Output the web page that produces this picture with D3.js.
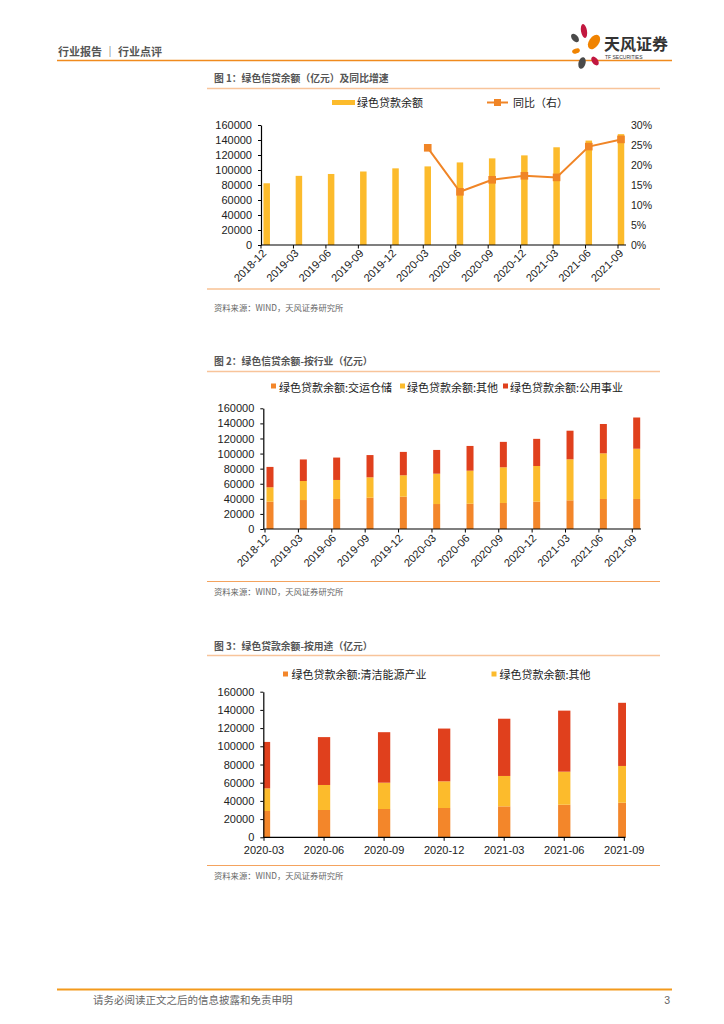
<!DOCTYPE html>
<html><head><meta charset="utf-8">
<script src="https://cdn.jsdelivr.net/npm/d3@7"></script>
<style>body{margin:0;background:#fff}svg{display:block}</style>
</head><body><svg id="c" width="724" height="1024"></svg>
<script>
// ---------- DATA ----------
const dates1 = ["2018-12","2019-03","2019-06","2019-09","2019-12","2020-03","2020-06","2020-09","2020-12","2021-03","2021-06","2021-09"];
const greenLoan = [82300, 92200, 94700, 98000, 102200, 104800, 110100, 115500, 119500, 130300, 139200, 147800];
const yoy = [null, null, null, null, null, 24.3, 13.3, 16.3, 17.3, 16.9, 24.6, 26.4];
const transport = [36200, 38400, 39800, 41500, 42800, 33100, 33500, 34500, 36200, 38000, 39800, 39800];
const otherInd  = [19100, 25200, 25200, 27000, 28400, 40200, 43800, 47300, 47300, 54400, 60500, 66600];
const utilities = [27000, 28600, 29700, 29500, 31000, 31500, 32800, 33700, 36000, 37900, 38900, 41400];
const dates3 = ["2020-03","2020-06","2020-09","2020-12","2021-03","2021-06","2021-09"];
const cleanEnergy = [28900, 30000, 31100, 32200, 34000, 35800, 38000];
const otherUse    = [24900, 27500, 28900, 29300, 33400, 36300, 40400];
const infraUpgrade= [51000, 52600, 55500, 58000, 62900, 67100, 69400];
const yTicks = [0, 20000, 40000, 60000, 80000, 100000, 120000, 140000, 160000];
const pctTicks = [0, 5, 10, 15, 20, 25, 30];
const names1 = ["绿色贷款余额", "同比（右）"];
const names2 = ["绿色贷款余额:交运仓储", "绿色贷款余额:其他", "绿色贷款余额:公用事业"];
const names3 = ["绿色贷款余额:清洁能源产业", "绿色贷款余额:其他"];

// ---------- STYLE ----------
const YEL = "#FCBB2C", ORG = "#F3862A", RED = "#E0401D", LINE = "#F08526";
const NUM = "'Liberation Sans', Arial, 'Noto Sans CJK SC', sans-serif";
const CJK = "'Noto Sans CJK SC', 'Liberation Sans', sans-serif";
const svg = d3.select("#c");

// ---------- HEADER ----------
svg.append("text").attr("x", 58).attr("y", 55.5).attr("font-family", CJK).attr("font-size", 11)
  .attr("font-weight", "bold").attr("fill", "#555").text("行业报告 ｜ 行业点评");
svg.append("line").attr("x1", 57).attr("x2", 672).attr("y1", 60.5).attr("y2", 60.5)
  .attr("stroke", "#F08A1D").attr("stroke-width", 1.6);
// logo
const logo = svg.append("g");
const petals = [
  {cx: 584, cy: 31, rx: 3, ry: 7, r: -10, c: "#C2173F"},
  {cx: 594, cy: 42, rx: 5, ry: 8, r: 35, c: "#F08300"},
  {cx: 575, cy: 38, rx: 3, ry: 5, r: -40, c: "#4A4A4A"},
  {cx: 576, cy: 51, rx: 4, ry: 2.5, r: -20, c: "#F08300"},
  {cx: 582, cy: 63, rx: 3.5, ry: 6, r: 15, c: "#4A4A4A"},
  {cx: 595, cy: 61, rx: 3, ry: 5, r: -35, c: "#C2173F"}
];
petals.forEach(p => logo.append("ellipse").attr("cx", p.cx).attr("cy", p.cy).attr("rx", p.rx).attr("ry", p.ry)
  .attr("transform", `rotate(${p.r},${p.cx},${p.cy})`).attr("fill", p.c));
logo.append("text").attr("x", 604).attr("y", 50).attr("font-family", CJK).attr("font-size", 16)
  .attr("font-weight", "bold").attr("fill", "#333").text("天风证券");
logo.append("text").attr("x", 605).attr("y", 58.5).attr("font-family", NUM).attr("font-size", 5)
  .attr("fill", "#333").text("TF SECURITIES");

// ---------- helpers ----------
function titleBlock(y, text, lineY) {
  svg.append("text").attr("x", 214).attr("y", y).attr("font-family", CJK).attr("font-size", 9.8)
    .attr("font-weight", "bold").attr("fill", "#555").text(text);
  svg.append("line").attr("x1", 207).attr("x2", 660).attr("y1", lineY).attr("y2", lineY)
    .attr("stroke", "#F8C49A").attr("stroke-width", 1.5);
}
function sourceBlock(lineY, textY) {
  svg.append("line").attr("x1", 207).attr("x2", 660).attr("y1", lineY).attr("y2", lineY)
    .attr("stroke", "#F4A35E").attr("stroke-width", 1);
  svg.append("text").attr("x", 214).attr("y", textY).attr("font-family", CJK).attr("font-size", 8.3)
    .attr("fill", "#666").text("资料来源：WIND，天风证券研究所");
}
function leftAxis(y, x0) {
  const g = svg.append("g").attr("transform", `translate(${x0},0)`)
    .call(d3.axisLeft(y).tickValues(yTicks).tickSize(3).tickSizeOuter(0).tickFormat(d3.format("d")).tickPadding(6));
  g.select(".domain").attr("stroke", "#000").attr("stroke-width", 1.2);
  g.selectAll(".tick line").attr("stroke", "#000");
  g.selectAll("text").attr("font-family", NUM).attr("font-size", 11).attr("fill", "#222");
  return g;
}
function bottomAxisLine(x1, x2, yv, tickXs) {
  svg.append("line").attr("x1", x1).attr("x2", x2).attr("y1", yv).attr("y2", yv).attr("stroke", "#000").attr("stroke-width", 1.2);
  tickXs.forEach(t => svg.append("line").attr("x1", t).attr("x2", t).attr("y1", yv).attr("y2", yv + 3.5).attr("stroke", "#000"));
}
function rotLabels(labels, xs, yv, dx, dy) {
  labels.forEach((l, i) => svg.append("text").attr("text-anchor", "end")
    .attr("transform", `translate(${xs(l) + dx},${yv + dy}) rotate(-45)`)
    .attr("font-family", NUM).attr("font-size", 11).attr("fill", "#222").text(l));
}

// ---------- CHART 1 ----------
titleBlock(81.5, "图 1：绿色信贷余额（亿元）及同比增速", 88.5);
{
  const top = 125, bot = 245;
  const y = d3.scaleLinear().domain([0, 160000]).range([bot, top]);
  const yR = d3.scaleLinear().domain([0, 30]).range([bot, top]);
  const xc = d3.scalePoint().domain(dates1).range([266.7, 621]);
  const xt = d3.scalePoint().domain(dates1).range([261, 618]);
  const bw = 6.5;
  svg.append("g").selectAll("rect").data(dates1).join("rect")
    .attr("x", d => xc(d) - bw / 2).attr("width", bw)
    .attr("y", (d, i) => y(greenLoan[i])).attr("height", (d, i) => bot - y(greenLoan[i])).attr("fill", YEL);
  leftAxis(y, 261);
  bottomAxisLine(261, 626, bot, dates1.map(d => xt(d)));
  // right labels
  const gR = svg.append("g").attr("transform", `translate(627,0)`)
    .call(d3.axisRight(yR).tickValues(pctTicks).tickSize(0).tickPadding(4).tickFormat(d => d + "%"));
  gR.select(".domain").remove();
  gR.selectAll("text").attr("font-family", NUM).attr("font-size", 10.5).attr("fill", "#222");
  // line
  const pts = dates1.map((d, i) => ({d, v: yoy[i]})).filter(p => p.v != null);
  svg.append("path").datum(pts).attr("fill", "none").attr("stroke", LINE).attr("stroke-width", 2)
    .attr("d", d3.line().x(p => xc(p.d)).y(p => yR(p.v)));
  svg.append("g").selectAll("rect").data(pts).join("rect")
    .attr("x", p => xc(p.d) - 3.8).attr("y", p => yR(p.v) - 3.8).attr("width", 7.6).attr("height", 7.6).attr("fill", LINE);
  rotLabels(dates1, xt, bot, 6, 9);
  // legend
  svg.append("rect").attr("x", 332).attr("y", 100).attr("width", 23).attr("height", 5).attr("fill", YEL);
  svg.append("text").attr("x", 357).attr("y", 107).attr("font-family", CJK).attr("font-size", 11).attr("fill", "#222").text(names1[0]);
  svg.append("line").attr("x1", 487).attr("x2", 508).attr("y1", 102.5).attr("y2", 102.5).attr("stroke", LINE).attr("stroke-width", 2);
  svg.append("rect").attr("x", 494).attr("y", 99).attr("width", 7).attr("height", 7).attr("fill", LINE);
  svg.append("text").attr("x", 513).attr("y", 107).attr("font-family", CJK).attr("font-size", 11).attr("fill", "#222").text(names1[1]);
}
sourceBlock(289, 311);

// ---------- CHART 2 ----------
titleBlock(364.5, "图 2：绿色信贷余额-按行业（亿元）", 371.5);
{
  const top = 408.3, bot = 529;
  const y = d3.scaleLinear().domain([0, 160000]).range([bot, top]);
  const xc = d3.scalePoint().domain(dates1).range([270, 636.7]);
  const xt = d3.scalePoint().domain(dates1).range([265, 632.3]);
  const rows = dates1.map((d, i) => ({d, a: transport[i], b: otherInd[i], c: utilities[i]}));
  const stack = d3.stack().keys(["a", "b", "c"])(rows);
  const cols = [ORG, YEL, RED];
  const bw = 7;
  svg.append("g").selectAll("g").data(stack).join("g").attr("fill", (s, i) => cols[i])
    .selectAll("rect").data(s => s).join("rect")
    .attr("x", p => xc(p.data.d) - bw / 2).attr("width", bw)
    .attr("y", p => y(p[1])).attr("height", p => y(p[0]) - y(p[1]));
  leftAxis(y, 263.3);
  bottomAxisLine(263.3, 641, bot, dates1.map(d => xt(d)));
  rotLabels(dates1, xt, bot, 5, 10);
  // legend
  const lx = [271, 400, 503], tx = [279, 407, 510];
  names2.forEach((n, i) => {
    svg.append("rect").attr("x", lx[i]).attr("y", 383.5).attr("width", 5).attr("height", 5).attr("fill", cols[i]);
    svg.append("text").attr("x", tx[i]).attr("y", 391.5).attr("font-family", CJK).attr("font-size", 11).attr("fill", "#222").text(n);
  });
}
sourceBlock(581.5, 594.5);

// ---------- CHART 3 ----------
titleBlock(649.5, "图 3：绿色贷款余额-按用途（亿元）", 655.5);
{
  const top = 691.7, bot = 837.3;
  const y = d3.scaleLinear().domain([0, 160000]).range([bot, top]);
  const x = d3.scalePoint().domain(dates3).range([264, 624.3]);
  const rows = dates3.map((d, i) => ({d, a: cleanEnergy[i], b: otherUse[i], c: infraUpgrade[i]}));
  const stack = d3.stack().keys(["a", "b", "c"])(rows);
  const cols = [ORG, YEL, RED];
  const bw = 12.3;
  svg.append("clipPath").attr("id", "clip3").append("rect").attr("x", 263.5).attr("y", 680).attr("width", 362.5).attr("height", 160);
  svg.append("g").attr("clip-path", "url(#clip3)").selectAll("g").data(stack).join("g").attr("fill", (s, i) => cols[i])
    .selectAll("rect").data(s => s).join("rect")
    .attr("x", p => x(p.data.d) - bw / 2).attr("width", bw)
    .attr("y", p => y(p[1])).attr("height", p => y(p[0]) - y(p[1]));
  leftAxis(y, 263.3);
  bottomAxisLine(263.3, 625.5, bot, dates3.map(d => x(d)));
  dates3.forEach(d => svg.append("text").attr("x", x(d)).attr("y", 854).attr("text-anchor", "middle")
    .attr("font-family", NUM).attr("font-size", 11).attr("fill", "#222").text(d));
  // legend
  const lx = [283, 491.5], tx = [291.5, 499.5];
  names3.forEach((n, i) => {
    svg.append("rect").attr("x", lx[i]).attr("y", 671.5).attr("width", 5).attr("height", 5).attr("fill", cols[i]);
    svg.append("text").attr("x", tx[i]).attr("y", 678.5).attr("font-family", CJK).attr("font-size", 11).attr("fill", "#222").text(n);
  });
}
sourceBlock(865.5, 878.5);

// ---------- FOOTER ----------
svg.append("line").attr("x1", 57).attr("x2", 672).attr("y1", 989.5).attr("y2", 989.5)
  .attr("stroke", "#F39A1C").attr("stroke-width", 2);
svg.append("text").attr("x", 93).attr("y", 1004).attr("font-family", CJK).attr("font-size", 10.5)
  .attr("fill", "#666").text("请务必阅读正文之后的信息披露和免责申明");
svg.append("text").attr("x", 670).attr("y", 1004).attr("text-anchor", "end").attr("font-family", NUM).attr("font-size", 10.5)
  .attr("fill", "#666").text("3");
</script></body></html>
